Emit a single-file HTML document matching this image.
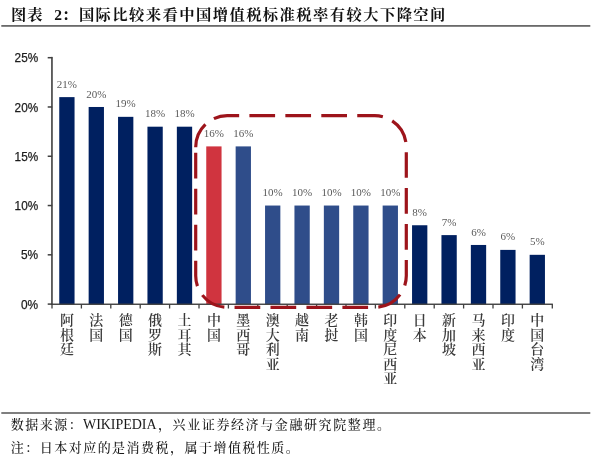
<!DOCTYPE html>
<html lang="zh-CN">
<head>
<meta charset="utf-8">
<title>图表 2：国际比较来看中国增值税标准税率有较大下降空间</title>
<style>
html,body{margin:0;padding:0;background:#fff;}
body{width:600px;height:457px;overflow:hidden;position:relative;}
svg{position:absolute;left:0;top:0;display:block;}
.title{font-family:"Liberation Serif","Noto Serif CJK SC",serif;font-weight:bold;font-size:15.3px;fill:#111;}
.ylab{font-family:"Liberation Sans","Noto Sans CJK SC",sans-serif;font-size:12.8px;fill:#1c1c1c;stroke:#1c1c1c;stroke-width:0.25px;}
.dlab{font-family:"Liberation Serif","Noto Serif CJK SC",serif;font-size:11px;fill:#5a5a5a;}
.cat{font-family:"Liberation Serif","Noto Serif CJK SC",serif;font-size:13.2px;font-weight:600;fill:#3a3a3a;}
.note{font-family:"Liberation Serif","Noto Serif CJK SC",serif;font-size:13px;font-weight:500;fill:#1a1a1a;}
.lat{font-size:14px;font-weight:400;}
</style>
</head>
<body>
<svg width="600" height="457" viewBox="0 0 600 457">
<rect x="0" y="0" width="600" height="457" fill="#ffffff"/>

<text class="title" y="20.4"><tspan x="11" textLength="31.5" lengthAdjust="spacing">图表</tspan><tspan> </tspan><tspan x="54.3" style="font-size:15.5px">2</tspan><tspan x="61.9">：</tspan><tspan x="78.9" textLength="366.5" lengthAdjust="spacing">国际比较来看中国增值税标准税率有较大下降空间</tspan></text>
<rect x="1.3" y="25" width="589" height="1.8" fill="#6a6a6a"/>
<rect x="59.25" y="97.12" width="15.3" height="207.28" fill="#002060"/>
<rect x="88.65" y="106.98" width="15.3" height="197.42" fill="#002060"/>
<rect x="118.05" y="116.84" width="15.3" height="187.56" fill="#002060"/>
<rect x="147.45" y="126.69" width="15.3" height="177.71" fill="#002060"/>
<rect x="176.85" y="126.69" width="15.3" height="177.71" fill="#002060"/>
<rect x="206.25" y="146.40" width="15.3" height="158.00" fill="#d0343f"/>
<rect x="235.65" y="146.40" width="15.3" height="158.00" fill="#2f4d8a"/>
<rect x="265.05" y="205.54" width="15.3" height="98.86" fill="#2f4d8a"/>
<rect x="294.45" y="205.54" width="15.3" height="98.86" fill="#2f4d8a"/>
<rect x="323.85" y="205.54" width="15.3" height="98.86" fill="#2f4d8a"/>
<rect x="353.25" y="205.54" width="15.3" height="98.86" fill="#2f4d8a"/>
<rect x="382.65" y="205.54" width="15.3" height="98.86" fill="#2f4d8a"/>
<rect x="412.05" y="225.25" width="15.3" height="79.15" fill="#002060"/>
<rect x="441.45" y="235.11" width="15.3" height="69.29" fill="#002060"/>
<rect x="470.85" y="244.96" width="15.3" height="59.44" fill="#002060"/>
<rect x="500.25" y="249.89" width="15.3" height="54.51" fill="#002060"/>
<rect x="529.65" y="254.82" width="15.3" height="49.58" fill="#002060"/>
<rect x="51.15" y="56.9" width="1.6" height="248.10" fill="#404040"/>
<rect x="51.15" y="303.55" width="501.70" height="1.4" fill="#404040"/>
<rect x="47.7" y="303.35" width="4.5" height="1.5" fill="#404040"/>
<text class="ylab" x="21.00" y="308.70" textLength="17.2" lengthAdjust="spacingAndGlyphs">0%</text>
<rect x="47.7" y="254.07" width="4.5" height="1.5" fill="#404040"/>
<text class="ylab" x="21.00" y="259.42" textLength="17.2" lengthAdjust="spacingAndGlyphs">5%</text>
<rect x="47.7" y="204.79" width="4.5" height="1.5" fill="#404040"/>
<text class="ylab" x="14.60" y="210.14" textLength="23.6" lengthAdjust="spacingAndGlyphs">10%</text>
<rect x="47.7" y="155.51" width="4.5" height="1.5" fill="#404040"/>
<text class="ylab" x="14.60" y="160.86" textLength="23.6" lengthAdjust="spacingAndGlyphs">15%</text>
<rect x="47.7" y="106.23" width="4.5" height="1.5" fill="#404040"/>
<text class="ylab" x="14.60" y="111.58" textLength="23.6" lengthAdjust="spacingAndGlyphs">20%</text>
<rect x="47.7" y="56.95" width="4.5" height="1.5" fill="#404040"/>
<text class="ylab" x="14.60" y="62.30" textLength="23.6" lengthAdjust="spacingAndGlyphs">25%</text>
<rect x="51.35" y="304.10" width="1.3" height="4.4" fill="#404040"/>
<rect x="80.75" y="304.10" width="1.3" height="4.4" fill="#404040"/>
<rect x="110.15" y="304.10" width="1.3" height="4.4" fill="#404040"/>
<rect x="139.55" y="304.10" width="1.3" height="4.4" fill="#404040"/>
<rect x="168.95" y="304.10" width="1.3" height="4.4" fill="#404040"/>
<rect x="198.35" y="304.10" width="1.3" height="4.4" fill="#404040"/>
<rect x="227.75" y="304.10" width="1.3" height="4.4" fill="#404040"/>
<rect x="257.15" y="304.10" width="1.3" height="4.4" fill="#404040"/>
<rect x="286.55" y="304.10" width="1.3" height="4.4" fill="#404040"/>
<rect x="315.95" y="304.10" width="1.3" height="4.4" fill="#404040"/>
<rect x="345.35" y="304.10" width="1.3" height="4.4" fill="#404040"/>
<rect x="374.75" y="304.10" width="1.3" height="4.4" fill="#404040"/>
<rect x="404.15" y="304.10" width="1.3" height="4.4" fill="#404040"/>
<rect x="433.55" y="304.10" width="1.3" height="4.4" fill="#404040"/>
<rect x="462.95" y="304.10" width="1.3" height="4.4" fill="#404040"/>
<rect x="492.35" y="304.10" width="1.3" height="4.4" fill="#404040"/>
<rect x="521.75" y="304.10" width="1.3" height="4.4" fill="#404040"/>
<rect x="551.65" y="304.10" width="1.3" height="4.4" fill="#404040"/>
<text class="dlab" x="66.90" y="87.72" text-anchor="middle">21%</text>
<text class="dlab" x="96.30" y="97.58" text-anchor="middle">20%</text>
<text class="dlab" x="125.70" y="107.44" text-anchor="middle">19%</text>
<text class="dlab" x="155.10" y="117.29" text-anchor="middle">18%</text>
<text class="dlab" x="184.50" y="117.29" text-anchor="middle">18%</text>
<text class="dlab" x="213.90" y="137.00" text-anchor="middle">16%</text>
<text class="dlab" x="243.30" y="137.00" text-anchor="middle">16%</text>
<text class="dlab" x="272.70" y="196.14" text-anchor="middle">10%</text>
<text class="dlab" x="302.10" y="196.14" text-anchor="middle">10%</text>
<text class="dlab" x="331.50" y="196.14" text-anchor="middle">10%</text>
<text class="dlab" x="360.90" y="196.14" text-anchor="middle">10%</text>
<text class="dlab" x="390.30" y="196.14" text-anchor="middle">10%</text>
<text class="dlab" x="419.70" y="215.85" text-anchor="middle">8%</text>
<text class="dlab" x="449.10" y="225.71" text-anchor="middle">7%</text>
<text class="dlab" x="478.50" y="235.56" text-anchor="middle">6%</text>
<text class="dlab" x="507.90" y="240.49" text-anchor="middle">6%</text>
<text class="dlab" x="537.30" y="245.42" text-anchor="middle">5%</text>
<text class="cat" transform="translate(66.90 0) scale(1.06 1)" text-anchor="middle"><tspan x="0" y="325">阿</tspan><tspan x="0" y="340">根</tspan><tspan x="0" y="354">廷</tspan></text>
<text class="cat" transform="translate(96.30 0) scale(1.06 1)" text-anchor="middle"><tspan x="0" y="325">法</tspan><tspan x="0" y="340">国</tspan></text>
<text class="cat" transform="translate(125.70 0) scale(1.06 1)" text-anchor="middle"><tspan x="0" y="325">德</tspan><tspan x="0" y="340">国</tspan></text>
<text class="cat" transform="translate(155.10 0) scale(1.06 1)" text-anchor="middle"><tspan x="0" y="325">俄</tspan><tspan x="0" y="340">罗</tspan><tspan x="0" y="354">斯</tspan></text>
<text class="cat" transform="translate(184.50 0) scale(1.06 1)" text-anchor="middle"><tspan x="0" y="325">土</tspan><tspan x="0" y="340">耳</tspan><tspan x="0" y="354">其</tspan></text>
<text class="cat" transform="translate(213.90 0) scale(1.06 1)" text-anchor="middle"><tspan x="0" y="325">中</tspan><tspan x="0" y="340">国</tspan></text>
<text class="cat" transform="translate(243.30 0) scale(1.06 1)" text-anchor="middle"><tspan x="0" y="325">墨</tspan><tspan x="0" y="340">西</tspan><tspan x="0" y="354">哥</tspan></text>
<text class="cat" transform="translate(272.70 0) scale(1.06 1)" text-anchor="middle"><tspan x="0" y="325">澳</tspan><tspan x="0" y="340">大</tspan><tspan x="0" y="354">利</tspan><tspan x="0" y="369">亚</tspan></text>
<text class="cat" transform="translate(302.10 0) scale(1.06 1)" text-anchor="middle"><tspan x="0" y="325">越</tspan><tspan x="0" y="340">南</tspan></text>
<text class="cat" transform="translate(331.50 0) scale(1.06 1)" text-anchor="middle"><tspan x="0" y="325">老</tspan><tspan x="0" y="340">挝</tspan></text>
<text class="cat" transform="translate(360.90 0) scale(1.06 1)" text-anchor="middle"><tspan x="0" y="325">韩</tspan><tspan x="0" y="340">国</tspan></text>
<text class="cat" transform="translate(390.30 0) scale(1.06 1)" text-anchor="middle"><tspan x="0" y="325">印</tspan><tspan x="0" y="340">度</tspan><tspan x="0" y="354">尼</tspan><tspan x="0" y="369">西</tspan><tspan x="0" y="383">亚</tspan></text>
<text class="cat" transform="translate(419.70 0) scale(1.06 1)" text-anchor="middle"><tspan x="0" y="325">日</tspan><tspan x="0" y="340">本</tspan></text>
<text class="cat" transform="translate(449.10 0) scale(1.06 1)" text-anchor="middle"><tspan x="0" y="325">新</tspan><tspan x="0" y="340">加</tspan><tspan x="0" y="354">坡</tspan></text>
<text class="cat" transform="translate(478.50 0) scale(1.06 1)" text-anchor="middle"><tspan x="0" y="325">马</tspan><tspan x="0" y="340">来</tspan><tspan x="0" y="354">西</tspan><tspan x="0" y="369">亚</tspan></text>
<text class="cat" transform="translate(507.90 0) scale(1.06 1)" text-anchor="middle"><tspan x="0" y="325">印</tspan><tspan x="0" y="340">度</tspan></text>
<text class="cat" transform="translate(537.30 0) scale(1.06 1)" text-anchor="middle"><tspan x="0" y="325">中</tspan><tspan x="0" y="340">国</tspan><tspan x="0" y="354">台</tspan><tspan x="0" y="369">湾</tspan></text>
<path d="M195.7 147.2 A31.5 31.5 0 0 1 227.2 115.7 H374.8 A31.5 31.5 0 0 1 406.3 147.2 V275.8 A31.5 31.5 0 0 1 374.8 307.3 H227.2 A31.5 31.5 0 0 1 195.7 275.8 Z" fill="none" stroke="#9d141b" stroke-width="3.2" stroke-dasharray="25.7 10.25" stroke-dashoffset="0.3"/>
<rect x="1.3" y="412.15" width="589" height="1.7" fill="#6a6a6a"/>
<text class="note" y="428.6"><tspan x="10.8" textLength="71" lengthAdjust="spacing">数据来源：</tspan><tspan class="lat" x="83" textLength="73.5" lengthAdjust="spacing">WIKIPEDIA</tspan><tspan x="158" textLength="232" lengthAdjust="spacing">，兴业证券经济与金融研究院整理。</tspan></text>
<text class="note" x="10.8" y="451.9" textLength="288" lengthAdjust="spacing">注：日本对应的是消费税，属于增值税性质。</text>
</svg>
</body>
</html>
